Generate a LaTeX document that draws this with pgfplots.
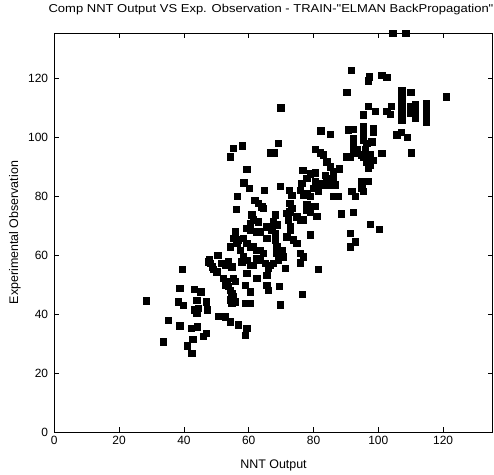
\documentclass[border=0pt]{standalone}
\usepackage{pgfplots}
\pgfplotsset{compat=1.18}
\usepackage{fontspec}
\setmainfont{Liberation Sans}
\pgfplotstableread{
x y
28.4 44.6
33.6 30.7
35.2 38.0
38.7 48.8
39.5 55.3
38.3 44.3
39.8 43.0
38.7 36.1
41.0 29.3
42.4 26.8
42.2 35.3
42.7 31.5
44.1 35.8
46.0 32.6
46.8 33.6
43.2 48.5
45.2 47.7
43.9 44.8
46.8 44.3
43.2 41.5
44.4 42.0
43.9 40.3
47.2 41.5
48.1 57.3
47.8 58.5
49.1 55.3
50.1 54.4
50.4 60.1
50.6 39.4
47.5 57.8
48.7 56.1
52.7 39.2
54.2 37.5
56.8 36.4
59.4 35.3
58.9 33.0
55.8 68.0
59.4 69.2
60.4 68.6
62.5 68.0
63.5 68.0
67.1 68.6
68.1 67.5
65.5 65.8
55.2 65.8
56.8 65.2
56.3 64.1
58.3 65.8
59.4 64.1
60.4 62.9
61.4 62.9
54.2 62.9
57.3 61.8
58.3 59.5
59.4 58.4
60.4 56.7
61.4 56.7
62.5 61.8
63.5 61.8
64.5 60.7
62.5 59.0
63.5 58.4
65.0 57.3
66.6 56.7
67.6 57.3
66.1 55.6
65.5 53.3
68.6 60.7
70.2 61.8
70.7 59.5
69.1 58.4
71.2 55.6
71.7 66.3
72.8 68.6
73.8 65.2
68.1 65.2
68.6 62.9
51.7 57.3
52.7 56.7
53.7 57.8
54.8 56.1
57.8 57.8
59.4 53.9
62.5 52.2
52.2 52.2
53.2 51.1
55.2 52.2
55.8 51.1
52.7 49.9
53.7 49.4
54.2 48.2
54.8 47.1
55.2 46.0
54.2 44.9
55.8 44.3
54.8 43.7
58.9 49.9
60.4 47.7
58.9 43.7
60.4 43.7
65.5 49.9
66.1 48.2
69.4 49.4
69.7 43.2
76.5 46.9
81.5 55.3
69.9 110.0
82.2 102.2
55.2 96.3
54.2 93.4
58.0 97.1
69.1 98.0
66.6 94.8
67.8 94.8
80.5 96.0
82.0 94.8
59.4 89.2
76.7 88.9
78.9 87.6
80.5 88.0
77.9 86.1
80.5 85.0
81.0 83.3
81.5 81.6
79.9 82.7
75.8 82.1
76.8 80.4
77.9 81.0
78.9 79.9
69.7 83.3
64.7 82.1
58.5 84.6
60.2 82.7
72.5 82.1
73.3 80.4
72.7 77.6
73.3 75.9
72.7 74.8
56.5 79.9
77.9 77.1
78.9 76.5
80.5 76.7
77.9 75.4
78.9 74.8
81.0 73.3
76.8 72.0
61.9 78.7
63.0 77.6
64.0 76.5
64.5 75.9
56.1 75.6
60.9 73.7
61.4 72.0
60.4 70.8
63.0 71.4
68.1 73.7
67.6 71.4
68.6 70.3
67.1 69.2
65.5 69.7
71.7 74.2
72.2 72.0
72.8 69.7
74.8 73.1
75.8 72.0
78.9 66.9
75.8 60.7
76.8 59.5
75.8 57.5
74.8 64.1
76.4 84.4
81.0 84.4
91.6 122.8
97.2 120.5
96.9 119.1
101.0 120.9
102.6 120.3
90.2 115.3
120.9 113.7
107.2 116.0
107.2 114.3
107.2 112.6
107.2 110.9
107.2 109.3
107.2 107.6
107.2 105.9
110.0 115.3
111.3 111.0
111.3 108.7
111.3 106.4
114.7 111.5
114.7 109.3
114.7 107.0
114.7 105.3
109.8 110.4
109.8 108.1
103.9 110.4
103.6 107.8
102.6 108.9
96.9 110.4
95.4 107.6
99.0 108.7
105.7 100.8
107.0 101.7
108.9 99.9
110.1 94.7
101.0 94.6
85.1 101.0
90.7 102.5
92.3 102.8
95.4 103.6
95.4 101.9
98.5 103.1
98.5 101.7
92.3 99.7
92.3 97.4
93.3 95.7
92.3 95.1
91.3 93.4
95.4 99.1
96.4 98.0
98.0 98.5
95.9 95.7
95.4 93.4
96.4 91.7
97.4 90.6
96.9 89.5
98.5 92.3
97.4 94.0
94.9 94.0
93.3 94.6
83.0 94.0
84.1 91.7
85.1 90.0
86.1 88.3
86.1 86.1
84.1 86.1
82.5 84.4
83.5 83.9
83.6 87.2
85.1 83.9
86.6 83.9
87.9 89.3
90.2 93.4
94.9 85.0
96.9 85.0
94.9 82.7
95.4 81.6
86.1 79.9
87.7 79.9
91.8 81.6
92.8 79.9
88.5 74.1
92.3 74.6
97.5 70.6
100.3 68.8
91.3 67.5
92.8 64.6
91.3 62.9
104.4 135.3
108.5 135.3
}\datatable
\begin{document}
\begin{tikzpicture}
\begin{axis}[
  name=ax, at={(0,0)}, anchor=south west,
  scale only axis, width=438.4bp, height=399.3bp,
  xmin=0, xmax=135.3, ymin=0, ymax=135.3,
  xtick={0,20,...,120}, ytick={0,20,...,120},
  tick pos=both, tick align=inside, major tick length=5bp,
  axis line style={line width=0.6bp}, every tick/.style={line width=0.6bp, black},
  /pgf/number format/assume math mode=true,
  ticklabel style={font=\fontsize{12}{14}\selectfont},
  xticklabel style={anchor=base, yshift=-12.5bp, inner sep=0pt},
  yticklabel style={anchor=east, xshift=-6bp, inner sep=0pt},
  every axis title shift=0pt,
  title={\scalebox{1.135}[1]{Comp NNT Output VS Exp. Observation - TRAIN-\textquotedbl ELMAN BackPropagation\textquotedbl}},
  title style={at={(axis description cs:0.4943,1.051)}, anchor=base, yshift=0pt, font=\fontsize{11.5}{13}\selectfont, inner sep=0pt},
  xlabel={NNT Output},
  xlabel style={at={(axis description cs:0.5,-0.0919)}, anchor=base, yshift=0pt, font=\fontsize{12.5}{14}\selectfont, inner sep=0pt},
  ylabel={Experimental Observation},
  ylabel style={at={(axis description cs:-0.0828,0.5)}, anchor=base, xshift=0pt, font=\fontsize{12.5}{14}\selectfont, inner sep=0pt},
  clip=false,
]
\addplot[only marks, mark=square*, mark size=3.2pt, mark options={fill=black, draw=black, line width=0.4pt}] table {\datatable};
\end{axis}
\pgfresetboundingbox
\path[use as bounding box] (-54.3bp,-42.7bp) rectangle (439.7bp,432.3bp);
\end{tikzpicture}
\end{document}
